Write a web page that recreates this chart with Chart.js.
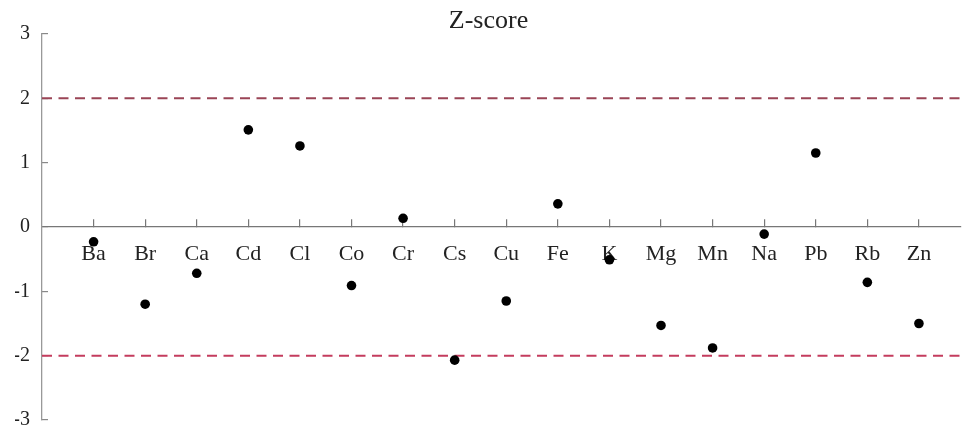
<!DOCTYPE html>
<html>
<head>
<meta charset="utf-8">
<script src="https://cdn.jsdelivr.net/npm/chart.js@4"></script>
<style>
  html, body { margin: 0; padding: 0; background: #fff; }
  #wrap { width: 965px; height: 428px; }
</style>
</head>
<body>
<div id="wrap"><canvas id="zChart" width="965" height="428"></canvas></div>
<script>
// Chart data
const elements = ['Ba', 'Br', 'Ca', 'Cd', 'Cl', 'Co', 'Cr', 'Cs', 'Cu', 'Fe', 'K', 'Mg', 'Mn', 'Na', 'Pb', 'Rb', 'Zn'];
const zScores = [-0.23, -1.20, -0.72, 1.51, 1.26, -0.91, 0.135, -2.07, -1.15, 0.36, -0.51, -1.53, -1.88, -0.11, 1.15, -0.86, -1.50];
const upperLimit = 2;
const lowerLimit = -2;
const yTicks = [3, 2, 1, 0, -1, -2, -3];

const xMax = 17.8;
const serif = "'Liberation Serif', 'DejaVu Serif', serif";

const points = elements.map((name, i) => ({ x: i + 1, y: zScores[i] }));
const limitLine = (v) => [{ x: 0, y: v }, { x: xMax, y: v }];

new Chart(document.getElementById('zChart'), {
    type: 'scatter',
    data: {
        datasets: [
            {
                label: 'Z-score',
                data: points,
                backgroundColor: '#000',
                borderWidth: 0,
                pointRadius: 4.8
            },
            {
                type: 'line',
                data: limitLine(upperLimit),
                borderColor: '#9a4456',
                borderWidth: 2,
                borderDash: [10, 6.5],
                pointRadius: 0
            },
            {
                type: 'line',
                data: limitLine(lowerLimit),
                borderColor: '#c43c5e',
                borderWidth: 2,
                borderDash: [10, 6.5],
                pointRadius: 0
            }
        ]
    },
    options: {
        responsive: false,
        animation: false,
        layout: { padding: { left: 15, right: 3, top: 0, bottom: 0 } },
        plugins: {
            legend: { display: false },
            tooltip: { enabled: false },
            title: {
                display: true,
                text: 'Z-score',
                color: '#222',
                font: { family: serif, size: 26, weight: 'normal', lineHeight: 1 },
                padding: { top: 8, bottom: 0 }
            }
        },
        scales: {
            x: {
                type: 'linear',
                min: 0,
                max: xMax,
                position: { y: 0 },
                afterBuildTicks: (axis) => {
                    axis.ticks = elements.map((n, i) => ({ value: i + 1 }));
                },
                grid: { drawOnChartArea: false, tickLength: -8, color: '#777', lineWidth: 1.2 },
                border: { color: '#777', width: 1.3 },
                ticks: {
                    autoSkip: false,
                    maxRotation: 0,
                    padding: 22,
                    color: '#222',
                    font: { family: serif, size: 22 },
                    callback: (value) => elements[value - 1] || ''
                }
            },
            y: {
                min: -3,
                max: 3,
                afterBuildTicks: (axis) => {
                    axis.ticks = yTicks.map(v => ({ value: v }));
                },
                afterFit: (axis) => {
                    axis.width = 27;
                    axis.paddingTop = 8;
                    axis.paddingBottom = 8;
                },
                grid: { drawOnChartArea: false, tickLength: -6, color: '#888', lineWidth: 1.2 },
                border: { color: '#999', width: 1.3 },
                ticks: {
                    padding: 18,
                    color: '#222',
                    font: { family: serif, size: 20 }
                }
            }
        }
    }
});
</script>
</body>
</html>
